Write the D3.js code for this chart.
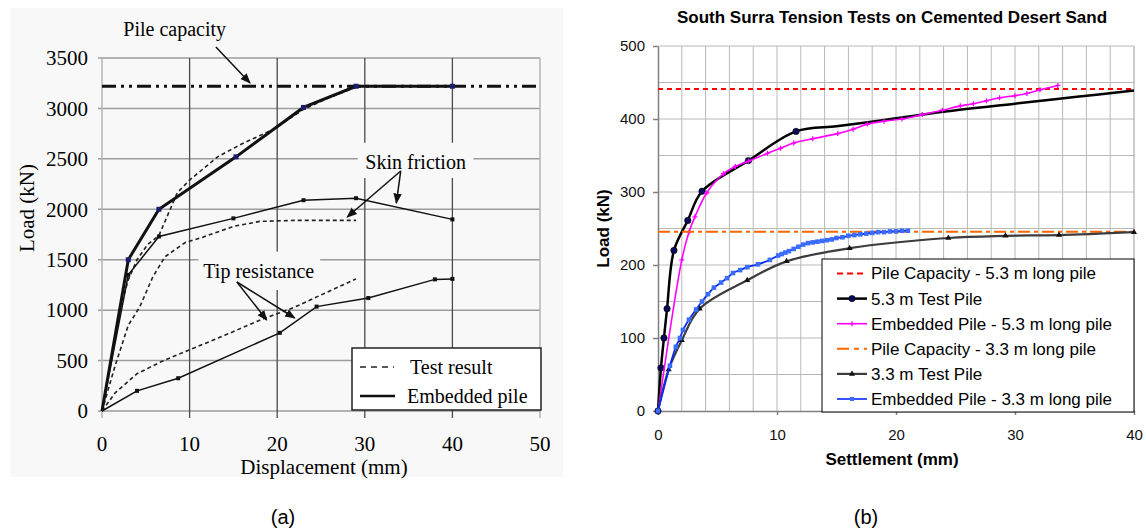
<!DOCTYPE html>
<html>
<head>
<meta charset="utf-8">
<script src="https://cdn.jsdelivr.net/npm/d3@7"></script>
<style>
  body { margin: 0; background: #fff; }
  svg { display: block; }
</style>
</head>
<body>
<script>
// ---------- panel (a): displacement (mm) vs load (kN) ----------
const capacityA = 3220;
const totalEmbedded = [[0, 0], [3, 1500], [6.5, 2000], [15.3, 2520], [23, 3010], [29, 3220], [40, 3220]];
const totalTest = [[0, 0], [1, 500], [2, 1000], [3, 1300], [4, 1500], [5.2, 1650], [6.5, 1740], [8.6, 2165],
  [10, 2290], [13.2, 2520], [16, 2650], [19.5, 2790], [23, 2990], [26, 3110], [29, 3210]];
const skinEmbedded = [[0, 0], [3, 1350], [6.5, 1730], [15, 1910], [23, 2090], [29, 2110], [40, 1900]];
const skinTest = [[0, 0], [1.5, 450], [3, 850], [4.3, 1030], [5.8, 1330], [7.2, 1530], [9.5, 1670],
  [11.4, 1720], [15, 1830], [18, 1880], [22, 1890], [29, 1890]];
const tipEmbedded = [[0, 0], [4, 200], [8.7, 325], [20.3, 775], [24.5, 1035], [30.4, 1120], [38, 1305], [40, 1310]];
const tipTest = [[0, 0], [1.5, 180], [4, 370], [6.8, 490], [9.8, 600], [14, 750], [18, 900], [22, 1030], [29, 1310]];
const ticksXA = [0, 10, 20, 30, 40, 50];
const ticksYA = [0, 500, 1000, 1500, 2000, 2500, 3000, 3500];

// ---------- panel (b): settlement (mm) vs load (kN) ----------
const capacity53 = 441;
const capacity33 = 245.5;
const test53 = [[0, 0], [0.25, 59], [0.5, 100], [0.76, 140], [1.34, 220], [2.5, 261], [3.7, 301], [7.6, 343], [11.6, 383]];
const test53Tail = [[15, 390], [17.8, 396], [20, 401], [24, 410], [30, 421], [35, 430], [40, 439]];
const embedded53 = [[0, 0], [2, 207], [2.6, 245], [3.1, 266], [4.1, 299], [5.5, 325], [6.5, 335], [7.6, 342],
  [9.2, 353], [10.3, 360], [11.4, 367], [13, 373], [15.1, 380], [16.4, 386], [17.6, 393], [19, 397],
  [20.5, 400], [22.2, 406], [23.9, 412], [25.4, 418], [26.5, 421], [27.6, 425], [28.7, 429], [30, 432],
  [31, 435], [32.1, 440], [33.6, 446]];
const test33 = [[0, 0], [0.9, 57], [2, 97], [3.5, 140], [7.5, 179], [10.8, 205], [16.1, 223], [24.4, 237],
  [29.2, 240], [33.7, 241], [40, 245]];
const embedded33 = [[0, 0], [1, 62], [1.5, 88], [1.85, 100], [2.1, 111], [2.6, 125], [3.2, 139], [3.7, 150],
  [4.2, 160], [4.7, 169], [5.3, 176], [5.8, 182], [6.3, 189], [6.9, 193], [7.5, 197], [8.4, 201], [9.4, 207],
  [10.1, 213], [10.4, 215], [10.7, 217], [11, 219], [11.4, 222], [11.8, 225], [12.2, 228], [12.6, 230],
  [13, 231], [13.4, 232], [13.8, 233], [14.2, 234], [14.6, 235], [15, 237], [15.5, 238], [16, 240],
  [16.5, 241], [17, 242], [17.5, 243], [18, 244], [18.5, 245], [19, 245], [19.5, 246], [20, 246],
  [20.5, 247], [21, 247]];
const ticksXB = [0, 10, 20, 30, 40];
const ticksYB = [0, 100, 200, 300, 400, 500];
const legendB = [
  "Pile Capacity - 5.3 m long pile",
  "5.3 m Test Pile",
  "Embedded Pile - 5.3 m long pile",
  "Pile Capacity - 3.3 m long pile",
  "3.3 m Test Pile",
  "Embedded Pile - 3.3 m long pile"
];

const width = 1146, height = 531;
const serif = "'Liberation Serif', 'Times New Roman', serif";
const sans = "'Liberation Sans', Arial, sans-serif";

const svg = d3.select("body").append("svg")
    .attr("width", width)
    .attr("height", height);

// arrow head for the annotations
svg.append("defs").append("marker")
    .attr("id", "arrow")
    .attr("viewBox", "0 0 10 10")
    .attr("refX", 9).attr("refY", 5)
    .attr("markerWidth", 7).attr("markerHeight", 7)
    .attr("orient", "auto")
  .append("path")
    .attr("d", "M0,1 L10,5 L0,9 Z")
    .attr("fill", "#111");

// ================= panel (a) =================
const xA = d3.scaleLinear().domain([0, 50]).range([102, 540]);
const yA = d3.scaleLinear().domain([0, 3500]).range([411, 58]);
const gA = svg.append("g");
const bgA = "#f8f8f8";

// faint scan background
gA.append("rect")
    .attr("x", 10).attr("y", 8)
    .attr("width", 553).attr("height", 469)
    .attr("fill", bgA);

// horizontal grid
gA.selectAll(".hgrid").data(ticksYA).join("line")
    .attr("x1", xA(0) - 4).attr("x2", xA(50))
    .attr("y1", d => yA(d)).attr("y2", d => yA(d))
    .attr("stroke", "#9c9c9c").attr("stroke-width", 1.5);

// vertical grid (darker inner lines)
gA.selectAll(".vgrid").data(ticksXA).join("line")
    .attr("x1", d => xA(d)).attr("x2", d => xA(d))
    .attr("y1", yA(3500)).attr("y2", yA(0) + 7)
    .attr("stroke", d => (d === 0 || d === 50) ? "#b4b4b4" : "#4a4a4a")
    .attr("stroke-width", d => (d === 0 || d === 50) ? 1.5 : 1.3);

// boxes behind the annotation labels
gA.append("rect")
    .attr("x", xA(29.2)).attr("y", yA(2660))
    .attr("width", xA(42.4) - xA(29.2)).attr("height", yA(2310) - yA(2660))
    .attr("fill", bgA);
gA.append("rect")
    .attr("x", xA(11)).attr("y", yA(1580))
    .attr("width", xA(24.9) - xA(11)).attr("height", yA(1200) - yA(1580))
    .attr("fill", bgA);

// tick labels
gA.selectAll(".ylab").data(ticksYA).join("text")
    .attr("x", 88).attr("y", d => yA(d))
    .attr("dy", "0.35em")
    .attr("text-anchor", "end")
    .style("font-family", serif).style("font-size", "21px")
    .text(d => d);
gA.selectAll(".xlab").data(ticksXA).join("text")
    .attr("x", d => xA(d)).attr("y", 444)
    .attr("dy", "0.35em")
    .attr("text-anchor", "middle")
    .style("font-family", serif).style("font-size", "21px")
    .text(d => d);

// axis titles
gA.append("text")
    .attr("x", 324).attr("y", 467).attr("dy", "0.35em")
    .attr("text-anchor", "middle")
    .style("font-family", serif).style("font-size", "21px")
    .text("Displacement (mm)");
gA.append("text")
    .attr("transform", "translate(27,208) rotate(-90)")
    .attr("dy", "0.35em")
    .attr("text-anchor", "middle")
    .style("font-family", serif).style("font-size", "21px")
    .text("Load (kN)");

// pile capacity line
gA.append("line")
    .attr("x1", xA(0)).attr("x2", xA(50))
    .attr("y1", yA(capacityA)).attr("y2", yA(capacityA))
    .attr("stroke", "#111").attr("stroke-width", 3)
    .attr("stroke-dasharray", "14,5,3,5,3,5");

const lineA = d3.line().x(d => xA(d[0])).y(d => yA(d[1]));

// test results (dashed)
[totalTest, skinTest, tipTest].forEach(series => {
    gA.append("path")
        .datum(series)
        .attr("d", lineA)
        .attr("fill", "none")
        .attr("stroke", "#222")
        .attr("stroke-width", 1.6)
        .attr("stroke-dasharray", "4,3");
});

// embedded pile components (thin solid with small squares)
[skinEmbedded, tipEmbedded].forEach(series => {
    gA.append("path")
        .datum(series)
        .attr("d", lineA)
        .attr("fill", "none")
        .attr("stroke", "#111")
        .attr("stroke-width", 1.5);
    gA.selectAll(null).data(series.slice(1)).join("rect")
        .attr("x", d => xA(d[0]) - 2).attr("y", d => yA(d[1]) - 2)
        .attr("width", 4).attr("height", 4)
        .attr("fill", "#111");
});

// embedded pile total (thick)
gA.append("path")
    .datum(totalEmbedded)
    .attr("d", lineA)
    .attr("fill", "none")
    .attr("stroke", "#111")
    .attr("stroke-width", 3);
gA.selectAll(".tm").data(totalEmbedded.slice(1)).join("rect")
    .attr("x", d => xA(d[0]) - 2.5).attr("y", d => yA(d[1]) - 2.5)
    .attr("width", 5).attr("height", 5)
    .attr("fill", "#1b1b70");

// annotations
const annotate = (label, cx, cy, from, targets) => {
    gA.append("text")
        .attr("x", xA(cx)).attr("y", yA(cy)).attr("dy", "0.35em")
        .attr("text-anchor", "middle")
        .style("font-family", serif).style("font-size", "20px")
        .text(label);
    targets.forEach(t => {
        gA.append("line")
            .attr("x1", xA(from[0])).attr("y1", yA(from[1]))
            .attr("x2", xA(t[0])).attr("y2", yA(t[1]))
            .attr("stroke", "#111").attr("stroke-width", 1.5)
            .attr("marker-end", "url(#arrow)");
    });
};
annotate("Pile capacity", 8.3, 3790, [13, 3609], [[16.9, 3252]]);
annotate("Skin friction", 35.8, 2470, [34.1, 2380], [[28, 1924], [33.6, 2062]]);
annotate("Tip resistance", 17.9, 1388, [15.4, 1279], [[18.8, 902], [22, 922]]);

// legend (a)
const legA = gA.append("g");
legA.append("rect")
    .attr("x", 352).attr("y", 348)
    .attr("width", 189).attr("height", 62)
    .attr("fill", "#fff").attr("stroke", "#222").attr("stroke-width", 1.5);
legA.append("line")
    .attr("x1", 360).attr("x2", 394).attr("y1", 367).attr("y2", 367)
    .attr("stroke", "#222").attr("stroke-width", 1.6).attr("stroke-dasharray", "6,5");
legA.append("line")
    .attr("x1", 360).attr("x2", 395).attr("y1", 396).attr("y2", 396)
    .attr("stroke", "#111").attr("stroke-width", 2.5);
legA.append("text")
    .attr("x", 410).attr("y", 367).attr("dy", "0.35em")
    .style("font-family", serif).style("font-size", "20px")
    .text("Test result");
legA.append("text")
    .attr("x", 407).attr("y", 396).attr("dy", "0.35em")
    .style("font-family", serif).style("font-size", "20px")
    .text("Embedded pile");

svg.append("text")
    .attr("x", 283).attr("y", 517).attr("dy", "0.35em")
    .attr("text-anchor", "middle")
    .style("font-family", sans).style("font-size", "20px")
    .text("(a)");

// ================= panel (b) =================
const xB = d3.scaleLinear().domain([0, 40]).range([658, 1134]);
const yB = d3.scaleLinear().domain([0, 500]).range([411, 46]);
const gB = svg.append("g");

// grid
gB.selectAll(".vgB").data(d3.range(2, 40, 2)).join("line")
    .attr("x1", d => xB(d)).attr("x2", d => xB(d))
    .attr("y1", yB(500)).attr("y2", yB(0))
    .attr("stroke", "#b8b8b8").attr("stroke-width", 1);
gB.selectAll(".hgB").data(d3.range(50, 501, 50)).join("line")
    .attr("x1", xB(0)).attr("x2", xB(40))
    .attr("y1", d => yB(d)).attr("y2", d => yB(d))
    .attr("stroke", "#b8b8b8").attr("stroke-width", 1);
gB.append("line")
    .attr("x1", xB(40)).attr("x2", xB(40))
    .attr("y1", yB(500)).attr("y2", yB(0))
    .attr("stroke", "#9a9a9a");

// axes
const axB = gB.append("g")
    .attr("transform", `translate(0,${yB(0)})`)
    .call(d3.axisBottom(xB).tickValues(ticksXB).tickSize(4).tickSizeOuter(0).tickPadding(14));
const ayB = gB.append("g")
    .attr("transform", `translate(${xB(0)},0)`)
    .call(d3.axisLeft(yB).tickValues(ticksYB).tickSize(5).tickSizeOuter(0).tickPadding(8));
[axB, ayB].forEach(a => {
    a.selectAll("path, line").attr("stroke", "#808080").attr("stroke-width", 1.5);
    a.selectAll("text").style("font-family", sans).style("font-size", "15px").attr("fill", "#111");
});

// capacity lines
gB.append("line")
    .attr("x1", xB(0)).attr("x2", xB(40))
    .attr("y1", yB(capacity53)).attr("y2", yB(capacity53))
    .attr("stroke", "#ff0000").attr("stroke-width", 2)
    .attr("stroke-dasharray", "5,4");

const lineB = d3.line().x(d => xB(d[0])).y(d => yB(d[1])).curve(d3.curveCatmullRom.alpha(0.5));

// 5.3 m test pile
gB.append("path")
    .datum(test53.concat(test53Tail))
    .attr("d", lineB)
    .attr("fill", "none")
    .attr("stroke", "#000").attr("stroke-width", 2.5);
gB.selectAll(".m53").data(test53).join("circle")
    .attr("cx", d => xB(d[0])).attr("cy", d => yB(d[1]))
    .attr("r", 3.2)
    .attr("fill", "#0a0a5a").attr("stroke", "#000").attr("stroke-width", 0.6);

// embedded 5.3 m
gB.append("path")
    .datum(embedded53)
    .attr("d", lineB)
    .attr("fill", "none")
    .attr("stroke", "#ff00ff").attr("stroke-width", 1.6);
gB.selectAll(".e53").data(embedded53.slice(1)).join("path")
    .attr("d", d => `M${xB(d[0]) - 2.5},${yB(d[1])}h5M${xB(d[0])},${yB(d[1]) - 2.5}v5`)
    .attr("stroke", "#ff00ff").attr("stroke-width", 1.3);

// 3.3 m capacity
gB.append("line")
    .attr("x1", xB(0)).attr("x2", xB(40))
    .attr("y1", yB(capacity33)).attr("y2", yB(capacity33))
    .attr("stroke", "#ff6600").attr("stroke-width", 2)
    .attr("stroke-dasharray", "12,4,4,4");

// 3.3 m test pile
const tri = d3.symbol().type(d3.symbolTriangle).size(16);
gB.append("path")
    .datum(test33)
    .attr("d", lineB)
    .attr("fill", "none")
    .attr("stroke", "#3c3c3c").attr("stroke-width", 2.2);
gB.selectAll(".m33").data(test33).join("path")
    .attr("transform", d => `translate(${xB(d[0])},${yB(d[1])})`)
    .attr("d", tri)
    .attr("fill", "#111");

// embedded 3.3 m
gB.append("path")
    .datum(embedded33)
    .attr("d", lineB)
    .attr("fill", "none")
    .attr("stroke", "#0a28ff").attr("stroke-width", 1.8);
gB.selectAll(".e33").data(embedded33).join("rect")
    .attr("x", d => xB(d[0]) - 2.3).attr("y", d => yB(d[1]) - 2.3)
    .attr("width", 4.6).attr("height", 4.6)
    .attr("fill", "#3a6cff");

// title and axis titles
gB.append("text")
    .attr("x", 892).attr("y", 17).attr("dy", "0.35em")
    .attr("text-anchor", "middle")
    .style("font-family", sans).style("font-size", "17px").style("font-weight", "bold")
    .text("South Surra Tension Tests on Cemented Desert Sand");
gB.append("text")
    .attr("x", 892).attr("y", 459).attr("dy", "0.35em")
    .attr("text-anchor", "middle")
    .style("font-family", sans).style("font-size", "17px").style("font-weight", "bold")
    .text("Settlement (mm)");
gB.append("text")
    .attr("transform", `translate(603,${(yB(0) + yB(500)) / 2}) rotate(-90)`)
    .attr("dy", "0.35em")
    .attr("text-anchor", "middle")
    .style("font-family", sans).style("font-size", "17px").style("font-weight", "bold")
    .text("Load (kN)");

// legend (b)
const legB = gB.append("g");
legB.append("rect")
    .attr("x", 822).attr("y", 259)
    .attr("width", 312).attr("height", 153)
    .attr("fill", "#fff").attr("stroke", "#000").attr("stroke-width", 1);
const rowY = i => 273.5 + i * 25.1;
const sampleStyles = [
    { stroke: "#ff0000", width: 2, dash: "6,4" },
    { stroke: "#000", width: 2.5, dash: null },
    { stroke: "#ff00ff", width: 1.6, dash: null },
    { stroke: "#ff6600", width: 2, dash: "12,5,5,5" },
    { stroke: "#3c3c3c", width: 2.2, dash: null },
    { stroke: "#0a28ff", width: 1.6, dash: null }
];
legendB.forEach((label, i) => {
    const s = sampleStyles[i];
    legB.append("line")
        .attr("x1", 837).attr("x2", 867).attr("y1", rowY(i)).attr("y2", rowY(i))
        .attr("stroke", s.stroke).attr("stroke-width", s.width)
        .attr("stroke-dasharray", s.dash);
    legB.append("text")
        .attr("x", 871).attr("y", rowY(i)).attr("dy", "0.35em")
        .style("font-family", sans).style("font-size", "17px")
        .text(label);
});
legB.append("circle").attr("cx", 852).attr("cy", rowY(1)).attr("r", 3.2)
    .attr("fill", "#0a0a5a").attr("stroke", "#000").attr("stroke-width", 0.6);
legB.append("path")
    .attr("d", `M849.5,${rowY(2)}h5M852,${rowY(2) - 2.5}v5`)
    .attr("stroke", "#ff00ff").attr("stroke-width", 1.3);
legB.append("path")
    .attr("transform", `translate(852,${rowY(4)})`)
    .attr("d", tri).attr("fill", "#111");
legB.append("rect").attr("x", 850).attr("y", rowY(5) - 2).attr("width", 4).attr("height", 4)
    .attr("fill", "#3a6cff");

svg.append("text")
    .attr("x", 866).attr("y", 517).attr("dy", "0.35em")
    .attr("text-anchor", "middle")
    .style("font-family", sans).style("font-size", "20px")
    .text("(b)");
</script>
</body>
</html>
